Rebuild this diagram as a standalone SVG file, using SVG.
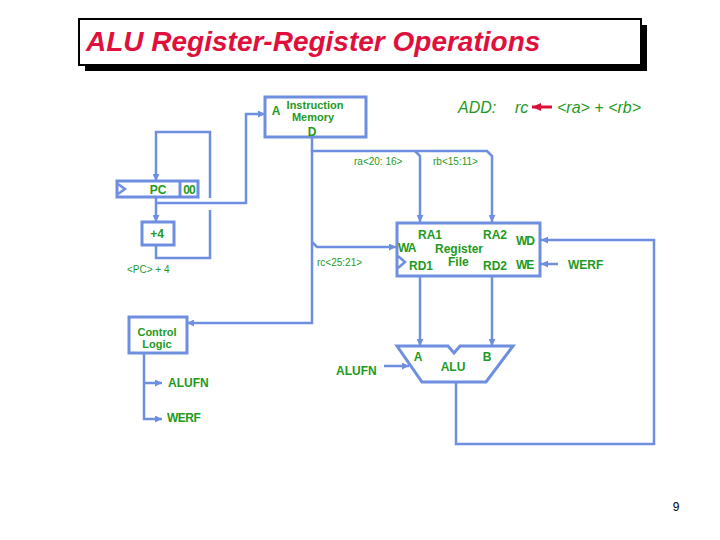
<svg xmlns="http://www.w3.org/2000/svg" width="720" height="540" viewBox="0 0 720 540">
<style>
.box{fill:none;stroke:#6e8ee0;stroke-width:3}
.ln{fill:none;stroke:#6e8ee0;stroke-width:2.5}
.t{font-family:"Liberation Sans",Arial,sans-serif;fill:#1e9a1e}
.b{font-weight:bold;font-size:12px}
.b2{font-weight:bold;font-size:11px}
.s{font-size:10px}
.i{font-style:italic;font-size:16px}
</style>
<defs>
<marker id="ar" markerUnits="userSpaceOnUse" markerWidth="7" markerHeight="7" refX="7" refY="3.5" orient="auto">
<path d="M0,0 L7,3.5 L0,7 z" fill="#6e8ee0"/>
</marker>
<marker id="rar" markerUnits="userSpaceOnUse" markerWidth="9" markerHeight="8" refX="9" refY="4" orient="auto">
<path d="M0,0 L9,4 L0,8 z" fill="#d8103c"/>
</marker>
</defs>
<rect width="720" height="540" fill="#fff"/>
<g id="title">
<rect x="85" y="25" width="562" height="46" fill="#000"/>
<rect x="79" y="19" width="562" height="46" fill="#fff" stroke="#000" stroke-width="2"/>
<text x="86" y="51" font-family="Liberation Sans,Arial,sans-serif" font-weight="bold" font-style="italic" font-size="28" fill="#e0103c">ALU Register-Register Operations</text>
</g>
<g id="equation">
<text class="t i" x="458" y="113">ADD:</text>
<text class="t i" x="515" y="113">rc</text>
<line x1="552" y1="107" x2="532" y2="107" stroke="#d8103c" stroke-width="3" marker-end="url(#rar)"/>
<text class="t i" x="557" y="113">&lt;ra&gt; + &lt;rb&gt;</text>
</g>
<g id="connectors">
<polyline class="ln" points="156,245 156,258 210,258 210,210"/>
<polyline class="ln" points="210,198 210,132 156,132 156,181" marker-end="url(#ar)"/>
<line class="ln" x1="156" y1="197" x2="156" y2="222" marker-end="url(#ar)"/>
<polyline class="ln" points="156,203 246,203 246,114 265,114" marker-end="url(#ar)"/>
<polyline class="ln" points="312,137 312,151 487,151 492,156 492,222" marker-end="url(#ar)"/>
<polyline class="ln" points="415,151 420,156 420,222" marker-end="url(#ar)"/>
<polyline class="ln" points="312,151 312,323 187,323" marker-end="url(#ar)"/>
<polyline class="ln" points="312,242 317,247 396,247" marker-end="url(#ar)"/>
<line class="ln" x1="420" y1="276" x2="420" y2="346" marker-end="url(#ar)"/>
<line class="ln" x1="492" y1="276" x2="492" y2="346" marker-end="url(#ar)"/>
<polyline class="ln" points="456,382 456,444 654,444 654,240 541,240" marker-end="url(#ar)"/>
<line class="ln" x1="558" y1="264" x2="541" y2="264" marker-end="url(#ar)"/>
<line class="ln" x1="384" y1="366" x2="409" y2="366" marker-end="url(#ar)"/>
<polyline class="ln" points="144,353 144,419 162,419" marker-end="url(#ar)"/>
<line class="ln" x1="144" y1="383" x2="162" y2="383" marker-end="url(#ar)"/>
</g>
<g id="imem">
<rect class="box" x="265" y="97" width="101" height="40" fill="#fff"/>
<text class="t b" x="276" y="115" text-anchor="middle">A</text>
<text class="t b2" x="315" y="109" text-anchor="middle">Instruction</text>
<text class="t b2" x="313" y="121" text-anchor="middle">Memory</text>
<text class="t b" x="312" y="136" text-anchor="middle">D</text>
</g>
<g id="pc">
<rect class="box" x="117" y="181" width="81" height="16"/>
<line class="box" x1="180" y1="181" x2="180" y2="197"/>
<polyline class="ln" points="118,184 125,189 118,194"/>
<text class="t b" x="158" y="194" text-anchor="middle">PC</text>
<text class="t b" x="189" y="194" text-anchor="middle" letter-spacing="-1">00</text>
</g>
<g id="plus4">
<rect class="box" x="142" y="222" width="32" height="23"/>
<text class="t b" x="157" y="238" text-anchor="middle">+4</text>
<text class="t s" x="127" y="273">&lt;PC&gt; + 4</text>
</g>
<g id="labels">
<text class="t s" x="354" y="165">ra&lt;20: 16&gt;</text>
<text class="t s" x="433" y="165">rb&lt;15:11&gt;</text>
<text class="t s" x="317" y="266">rc&lt;25:21&gt;</text>
</g>
<g id="regfile">
<rect class="box" x="397" y="223" width="143" height="53"/>
<polyline class="ln" points="398,256 405,262 398,268"/>
<text class="t b" x="418" y="239">RA1</text>
<text class="t b" x="483" y="239">RA2</text>
<text class="t b" x="516" y="245" letter-spacing="-1">WD</text>
<text class="t b" x="398" y="252" letter-spacing="-1">WA</text>
<text class="t b" x="435" y="253">Register</text>
<text class="t b" x="448" y="266">File</text>
<text class="t b" x="409" y="270">RD1</text>
<text class="t b" x="483" y="270">RD2</text>
<text class="t b" x="516" y="269" letter-spacing="-1">WE</text>
<text class="t b" x="568" y="269">WERF</text>
</g>
<g id="alu">
<path class="box" d="M397,346 L448,346 L454,353 L460,346 L513,346 L486,382 L422,382 Z" fill="#fff"/>
<text class="t b" x="418" y="361" text-anchor="middle">A</text>
<text class="t b" x="487" y="361" text-anchor="middle">B</text>
<text class="t b" x="453" y="371" text-anchor="middle">ALU</text>
<text class="t b" x="336" y="375">ALUFN</text>
</g>
<g id="control">
<rect class="box" x="129" y="317" width="58" height="36"/>
<text class="t b2" x="157" y="336" text-anchor="middle">Control</text>
<text class="t b2" x="157" y="348" text-anchor="middle">Logic</text>
<text class="t b" x="168" y="387">ALUFN</text>
<text class="t b" x="167" y="422" letter-spacing="-0.5">WERF</text>
</g>
<text x="676" y="511" text-anchor="middle" font-family="Liberation Sans,Arial,sans-serif" font-size="12" fill="#000">9</text>
</svg>
